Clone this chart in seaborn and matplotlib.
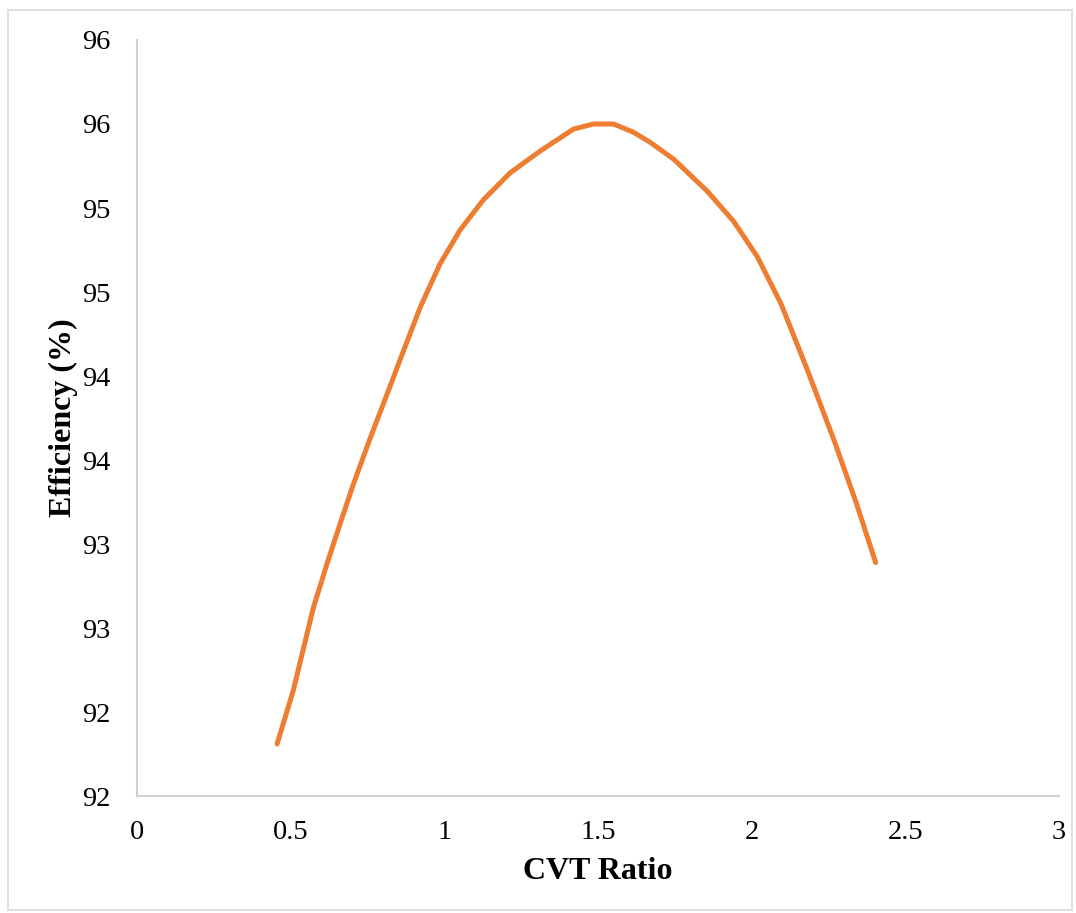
import matplotlib
matplotlib.use("Agg")
import matplotlib.pyplot as plt
import seaborn as sns
import pandas as pd
from matplotlib.patches import Rectangle

sns.set_theme(style="white")
plt.rcParams['font.family'] = ['Liberation Serif', 'DejaVu Serif']

# values
cvt_ratio = [0.456, 0.509, 0.542, 0.574, 0.618, 0.661, 0.705, 0.759, 0.824, 0.857,
             0.922, 0.987, 1.052, 1.128, 1.215, 1.313, 1.421, 1.486, 1.551, 1.617,
             1.671, 1.747, 1.856, 1.942, 2.019, 2.096, 2.181, 2.268, 2.340, 2.404]
efficiency = [92.31, 92.63, 92.88, 93.12, 93.38, 93.62, 93.86, 94.13, 94.44, 94.60,
              94.91, 95.17, 95.37, 95.55, 95.71, 95.84, 95.97, 96.00, 96.00, 95.95,
              95.89, 95.79, 95.60, 95.42, 95.21, 94.93, 94.54, 94.12, 93.75, 93.39]
y_ticks = [92.0, 92.5, 93.0, 93.5, 94.0, 94.5, 95.0, 95.5, 96.0, 96.5]
y_tick_labels = ["92", "92", "93", "93", "94", "94", "95", "95", "96", "96"]
x_ticks = [0, 0.5, 1, 1.5, 2, 2.5, 3]
x_tick_labels = ["0", "0.5", "1", "1.5", "2", "2.5", "3"]

df = pd.DataFrame({"CVT Ratio": cvt_ratio, "Efficiency": efficiency})

fig = plt.figure(figsize=(10.76, 9.13), dpi=100)
ax = fig.add_axes([0.1273, 0.1281, 0.8567, 0.8281])

sns.lineplot(data=df, x="CVT Ratio", y="Efficiency", ax=ax, color="#ED7D31",
             linewidth=3.6, solid_capstyle="round", solid_joinstyle="round")

ax.set_xlim(0, 3)
ax.set_ylim(92, 96.5)
ax.set_xticks(x_ticks)
ax.set_xticklabels(x_tick_labels)
ax.set_yticks(y_ticks)
ax.set_yticklabels(y_tick_labels)
ax.tick_params(axis="both", length=0, labelsize=20.5, colors="black")
ax.tick_params(axis="y", pad=19)
ax.tick_params(axis="x", pad=17)

ax.set_xlabel("CVT Ratio", fontsize=23, fontweight="bold", labelpad=9, color="black")
ax.set_ylabel("Efficiency (%)", fontsize=23, fontweight="bold", labelpad=3, color="black")

for side in ["top", "right"]:
    ax.spines[side].set_visible(False)
for side in ["left", "bottom"]:
    ax.spines[side].set_color("#d0d0d0")
    ax.spines[side].set_linewidth(1.5)

fig.patches.append(Rectangle((8 / 1076, 3 / 913), 1064 / 1076, 900 / 913,
                             transform=fig.transFigure, fill=False,
                             edgecolor="#d9d9d9", linewidth=1.2))

fig.savefig("out.png", dpi=100)
